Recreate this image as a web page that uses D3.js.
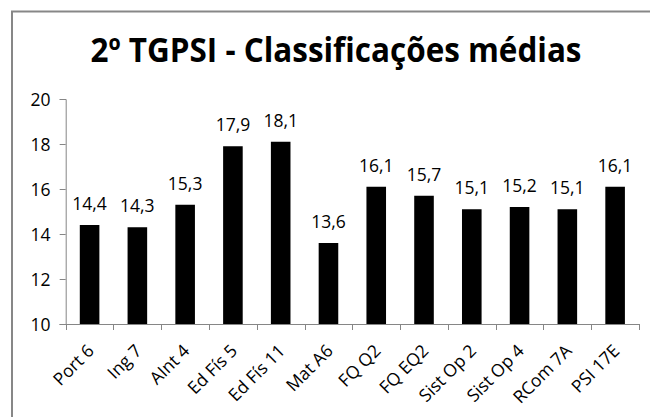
<!DOCTYPE html>
<html>
<head>
<meta charset="utf-8">
<script src="https://cdn.jsdelivr.net/npm/d3@7"></script>
<style>
  html, body { margin: 0; padding: 0; background: #fff; }
  svg { display: block; }
  text { font-family: "Open Sans", "Noto Sans", sans-serif; fill: #000; }
</style>
</head>
<body>
<svg id="chart" width="650" height="417"></svg>
<script>
const title = "2º TGPSI - Classificações médias";
const categories = ["Port 6", "Ing 7", "AInt 4", "Ed Fís 5", "Ed Fís 11", "Mat A6",
                    "FQ Q2", "FQ EQ2", "Sist Op 2", "Sist Op 4", "RCom 7A", "PSI 17E"];
const values = [14.4, 14.3, 15.3, 17.9, 18.1, 13.6, 16.1, 15.7, 15.1, 15.2, 15.1, 16.1];
const valueLabels = ["14,4", "14,3", "15,3", "17,9", "18,1", "13,6", "16,1", "15,7", "15,1", "15,2", "15,1", "16,1"];
const yTicks = [10, 12, 14, 16, 18, 20];

(function () {
const svg = d3.select("#chart");
const gray = "#868686";
const fs = 17.5;

// chart frame
svg.append("rect")
  .attr("x", 12).attr("y", 11.5)
  .attr("width", 700).attr("height", 500)
  .attr("fill", "none").attr("stroke", "#878787").attr("stroke-width", 2);

// title
svg.append("text")
  .attr("x", 336).attr("y", 62)
  .attr("text-anchor", "middle")
  .attr("font-weight", "bold")
  .attr("font-size", 34)
  .attr("textLength", 491)
  .attr("lengthAdjust", "spacingAndGlyphs")
  .text(title);

const pLeft = 65.7, pRight = 639, pTop = 99, pBottom = 324;

const x = d3.scaleBand().domain(categories).range([pLeft, pRight]).paddingInner(0).paddingOuter(0);
const y = d3.scaleLinear().domain([10, 20]).range([pBottom, pTop]);

// y axis
const yAxis = d3.axisLeft(y).tickValues(yTicks).tickSize(6).tickFormat(d3.format("d"));
const gy = svg.append("g").attr("transform", `translate(${pLeft},0)`).call(yAxis);
gy.select(".domain").attr("stroke", gray);
gy.selectAll(".tick line").attr("stroke", gray);
gy.selectAll(".tick text")
  .attr("x", -15.2)
  .attr("dy", "0.36em")
  .attr("font-size", fs)
  .attr("font-family", "'Open Sans', 'Noto Sans', sans-serif")
  .attr("fill", "#000");

// bars
const barW = x.bandwidth() * 0.41;
svg.append("g").selectAll("rect")
  .data(values)
  .join("rect")
  .attr("x", (d, i) => x(categories[i]) + (x.bandwidth() - barW) / 2)
  .attr("y", d => y(d))
  .attr("width", barW)
  .attr("height", d => y(10) - y(d))
  .attr("fill", "#000");

// value labels
svg.append("g").selectAll("text")
  .data(values)
  .join("text")
  .attr("x", (d, i) => x(categories[i]) + x.bandwidth() / 2)
  .attr("y", d => y(d) - 15)
  .attr("text-anchor", "middle")
  .attr("font-size", fs)
  .text((d, i) => valueLabels[i]);

// x axis line with boundary ticks
svg.append("line")
  .attr("x1", pLeft - 6).attr("x2", pRight)
  .attr("y1", pBottom + 0.5).attr("y2", pBottom + 0.5)
  .attr("stroke", gray);
const boundaries = categories.map(c => x(c)).concat([pRight]);
svg.append("g").selectAll("line")
  .data(boundaries)
  .join("line")
  .attr("x1", d => Math.round(d) + 0.5).attr("x2", d => Math.round(d) + 0.5)
  .attr("y1", pBottom).attr("y2", pBottom + 6)
  .attr("stroke", gray);

// x labels rotated
svg.append("g").selectAll("text")
  .data(categories)
  .join("text")
  .attr("transform", c => `translate(${x(c) + x.bandwidth() / 2 + 5.5},${pBottom + 28}) rotate(-45)`)
  .attr("text-anchor", "end")
  .attr("font-size", fs)
  .text(c => c);
})();
</script>
</body>
</html>
